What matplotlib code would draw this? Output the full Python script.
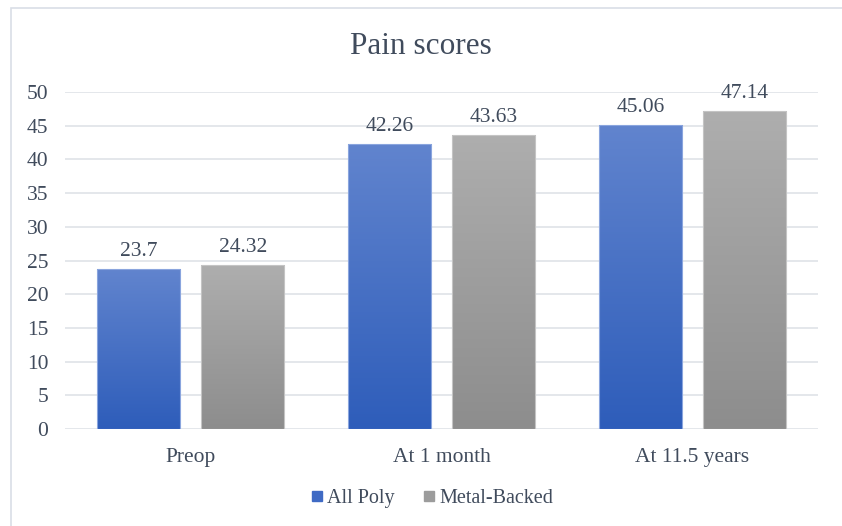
import numpy as np
import matplotlib.pyplot as plt
from matplotlib.colors import LinearSegmentedColormap
from matplotlib.patches import Rectangle
from matplotlib.lines import Line2D

categories = ["Preop", "At 1 month", "At 11.5 years"]
all_poly = [23.7, 42.26, 45.06]
metal_backed = [24.32, 43.63, 47.14]
series_names = ["All Poly", "Metal-Backed"]
y_ticks = list(range(0, 55, 5))

plt.rcParams["font.family"] = ["Liberation Serif", "DejaVu Serif"]
text_color = "#404B5C"

fig = plt.figure(figsize=(8.42, 5.26), dpi=100)
ax = fig.add_axes([0.0772, 0.1844, 0.8943, 0.6407])

# chart frame (top and left edges visible)
fig.patches.append(Rectangle((11 / 842, -0.1), 1.2, (1 - 8 / 526) + 0.1,
                             transform=fig.transFigure, fill=False,
                             edgecolor="#D9DEE6", linewidth=1.2))

gradients = {
    series_names[0]: LinearSegmentedColormap.from_list("blue", ["#2E5DBA", "#6184CE"]),
    series_names[1]: LinearSegmentedColormap.from_list("gray", ["#8D8D8D", "#AEAEAE"]),
}
edge = {series_names[0]: "#8AA5DE", series_names[1]: "#C4C4C4"}
legend_col = {series_names[0]: "#3F6AC4", series_names[1]: "#9C9C9C"}

x = np.arange(len(categories))
width = 0.332
offset = 0.208
grad = np.linspace(0, 1, 256).reshape(-1, 1)
label_size = 15.5

for vals, name, sgn in [(all_poly, series_names[0], -1), (metal_backed, series_names[1], 1)]:
    bars = ax.bar(x + sgn * offset, vals, width, color="none", edgecolor=edge[name],
                  linewidth=0.8, zorder=3)
    for b, v in zip(bars, vals):
        x0 = b.get_x()
        im = ax.imshow(grad, cmap=gradients[name], aspect="auto", origin="lower",
                       extent=[x0, x0 + b.get_width(), 0, v], zorder=2)
        im.set_clip_path(b)
        ax.annotate(f"{v:g}", (b.get_x() + b.get_width() / 2, v), xytext=(0, 6),
                    textcoords="offset points", ha="center", va="bottom",
                    fontsize=label_size, color=text_color)

ax.set_xlim(-0.5, 2.5)
ax.set_ylim(0, 50)
ax.set_yticks(y_ticks)
ax.set_xticks(x)
ax.set_xticklabels(categories)
ax.tick_params(axis="both", length=0, labelsize=label_size, colors=text_color)
ax.tick_params(axis="y", pad=12)
ax.tick_params(axis="x", pad=14)
ax.grid(axis="y", color="#DCE0E6", linewidth=1.1, zorder=0)
ax.set_axisbelow(True)
for s in ax.spines.values():
    s.set_visible(False)

fig.text(0.5, 1 - 47 / 526, "Pain scores", ha="center", va="center",
         fontsize=22.5, color=text_color)

handles = [Line2D([], [], marker="s", linestyle="none", markersize=7,
                  markerfacecolor=legend_col[n], markeredgecolor=legend_col[n]) for n in series_names]
fig.legend(handles, series_names, loc="center", bbox_to_anchor=(0.511, 1 - 498 / 526),
           ncol=2, frameon=False, fontsize=14.5, handletextpad=0.0, columnspacing=1.2,
           labelcolor=text_color, handlelength=1.0)

fig.savefig("out.png", dpi=100, facecolor="white")
